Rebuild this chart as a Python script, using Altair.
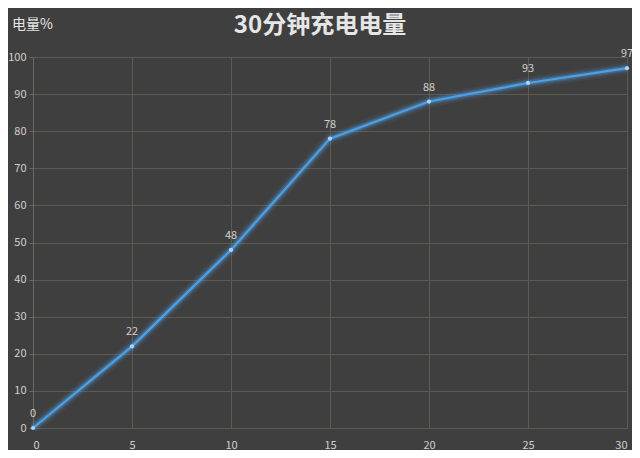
import altair as alt
import pandas as pd

minutes = [0, 5, 10, 15, 20, 25, 30]
charge = [0, 22, 48, 78, 88, 93, 97]
title_text = "30分钟充电电量"
y_label = "电量%"

df = pd.DataFrame({"minutes": minutes, "charge": charge})
one = pd.DataFrame({"title": [title_text], "ylab": [y_label]})

FONT = "Noto Sans CJK SC"
BG = "#403f3f"
GRID = "#5b5a54"
TXT = "#cfcfcf"
LINE = "#4d9fe6"

x = alt.X("minutes:Q", scale=alt.Scale(domain=[0, 30], nice=False),
          axis=alt.Axis(values=minutes, title=None, grid=True, gridColor=GRID,
                        domain=False, ticks=False, labelColor=TXT, labelFontSize=11,
                        labelPadding=11, labelFont=FONT))
y = alt.Y("charge:Q", scale=alt.Scale(domain=[0, 100], nice=False),
          axis=alt.Axis(values=list(range(0, 101, 10)), title=None, grid=True,
                        gridColor=GRID, domain=True, domainColor="#6a6a64",
                        ticks=True, tickColor="#6a6a64", tickSize=4,
                        labelColor=TXT, labelFontSize=11, labelPadding=3,
                        labelFont=FONT))

base = alt.Chart(df)

glow3 = base.mark_line(color=LINE, strokeWidth=12, opacity=0.08).encode(x=x, y=y)
glow2 = base.mark_line(color=LINE, strokeWidth=8, opacity=0.15).encode(x=x, y=y)
glow1 = base.mark_line(color=LINE, strokeWidth=5, opacity=0.3).encode(x=x, y=y)
line = base.mark_line(color=LINE, strokeWidth=2.2).encode(x=x, y=y)
pts = base.mark_point(filled=True, color="#a9d4ff", size=18, opacity=1).encode(x=x, y=y)
labels = base.mark_text(dy=-14, color=TXT, fontSize=11, font=FONT).encode(
    x=x, y=y, text="charge:Q")

title = alt.Chart(one).mark_text(font=FONT, fontSize=24, fontWeight="bold",
                                  color="#e6e6e6", align="center", baseline="middle").encode(
    x=alt.value(287), y=alt.value(-31), text="title:N")
ylab = alt.Chart(one).mark_text(font=FONT, fontSize=14, fontWeight="normal",
                                 color="#e6e6e6", align="left", baseline="middle").encode(
    x=alt.value(-21), y=alt.value(-32), text="ylab:N")

chart = alt.layer(glow3, glow2, glow1, line, pts, labels, title, ylab).properties(
    width=594, height=371,
    autosize=alt.AutoSizeParams(type="none"),
    padding={"left": 25, "top": 49, "right": 5, "bottom": 22},
    background=BG,
).configure_view(stroke=None)

chart.save("out.html", embed_options={"renderer": "svg", "actions": False})
